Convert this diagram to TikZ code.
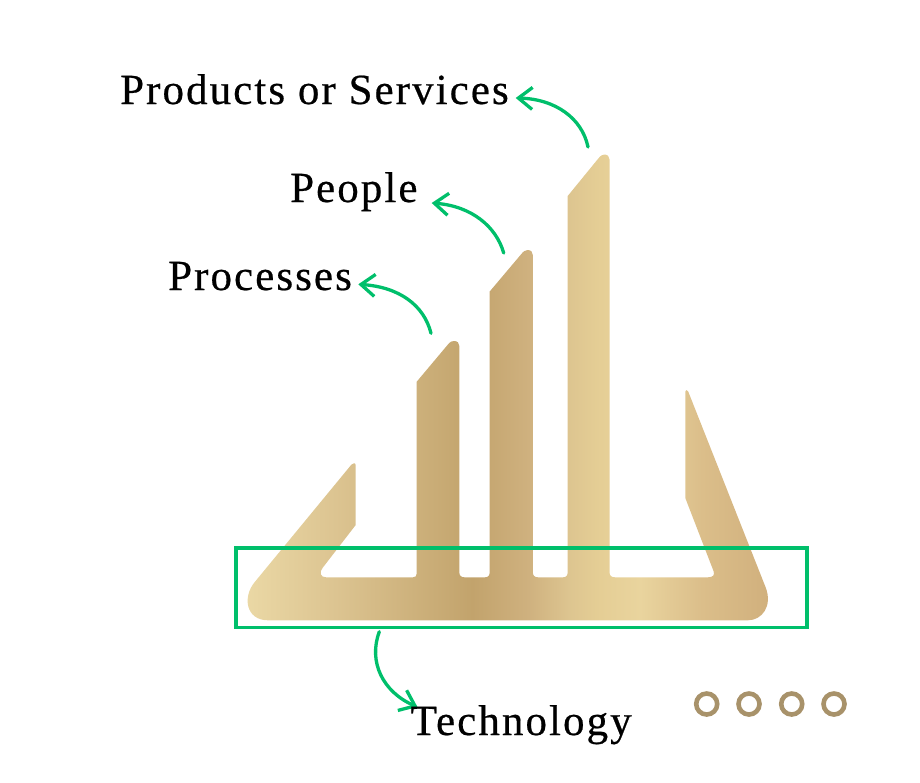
\documentclass[tikz,border=0pt]{standalone}
\usepackage{fontspec}
\setmainfont[LetterSpace=4.8,FakeBold=0.5]{Liberation Serif}
\usetikzlibrary{arrows.meta}
\definecolor{grn}{HTML}{00BF6B}
\definecolor{ringc}{HTML}{A8926A}
\definecolor{ga}{HTML}{EBD9A6}
\definecolor{gb}{HTML}{DCC491}
\definecolor{gc}{HTML}{C2A36C}
\definecolor{gd}{HTML}{CFB17F}
\definecolor{gh}{HTML}{DDC590}
\definecolor{gi}{HTML}{E5CE95}
\definecolor{ge}{HTML}{E9D49E}
\definecolor{gf}{HTML}{DBBE8A}
\definecolor{gg}{HTML}{D0AF7C}
\pgfdeclarehorizontalshading{gold}{100bp}{
 color(0bp)=(ga);
 color(25bp)=(ga);
 color(33.8bp)=(gb);
 color(46.7bp)=(gc);
 color(52bp)=(gd);
 color(55.8bp)=(gh);
 color(58.7bp)=(gi);
 color(62.5bp)=(ge);
 color(68.3bp)=(gf);
 color(75bp)=(gg);
 color(100bp)=(gg)}
\tikzset{
 lab/.style={anchor=base west,inner sep=0pt,font=\fontsize{43}{50}\selectfont,text=black},
 link/.style={draw=grn,line width=3.3pt,line cap=round,-{Straight Barb[length=14pt,width=22pt,line width=3.3pt]}},
 ring/.style={circle,draw=ringc,line width=4.6pt,fill=white,minimum size=21pt,inner sep=0pt},
 focus/.style={draw=grn,line width=3.4pt}
}
\begin{document}
\begin{tikzpicture}[x=1pt,y=-1pt]
\useasboundingbox (0,0) rectangle (920,782);
% logo
\shade[shading=gold]
 (255,581.7) -- (351.5,464.5) .. controls (353,462.7) and (355.7,462.5) .. (355.7,465.5)
 -- (355.7,525)
 -- (322.5,568) .. controls (319,572.5) and (320.5,577.3) .. (326,577.3)
 -- (413,577.3) .. controls (415.5,577.3) and (416.7,576) .. (416.7,573.5)
 -- (416.7,381.7)
 -- (447.5,345) .. controls (450.5,341.3) and (452,341) .. (454,341)
 .. controls (457.5,341) and (459.3,343) .. (459.3,346)
 -- (459.3,572) .. controls (459.3,575.5) and (461,577.3) .. (464.5,577.3)
 -- (485,577.3) .. controls (488.2,577.3) and (489.7,575.5) .. (489.7,572)
 -- (489.7,291.5)
 -- (520.5,255) .. controls (523.5,251.3) and (525,250) .. (527.5,250)
 .. controls (531,250) and (532.8,252) .. (532.8,255)
 -- (532.8,572) .. controls (532.8,575.5) and (534.5,577.3) .. (538,577.3)
 -- (563,577.3) .. controls (566.2,577.3) and (567.7,575.5) .. (567.7,572)
 -- (567.7,196)
 -- (597.5,159.5) .. controls (600.5,155.8) and (602,154.5) .. (604.2,154.5)
 .. controls (607.7,154.5) and (609.5,156.5) .. (609.5,159.5)
 -- (609.5,572) .. controls (609.5,575.5) and (611.2,577.3) .. (615,577.3)
 -- (708,577.3) .. controls (713,577.3) and (715,575) .. (713.5,571)
 -- (685.3,498) -- (685.3,391.5)
 .. controls (685.3,389.8) and (687.5,389.5) .. (688.2,391.5)
 -- (765.5,587)
 .. controls (773,606) and (762,620.3) .. (748,620.3)
 -- (268,620.3)
 .. controls (246,620.3) and (242,597) .. (255,581.7) -- cycle;
% focus box
\node[focus,inner sep=0pt,minimum width=571pt,minimum height=79.5pt] (box) at (521.5,587.8) {};
% connectors
\coordinate (p3) at (588,147);
\coordinate (p2) at (503.7,253);
\coordinate (p1) at (431,333.3);
\coordinate (prodend) at (515.7,98);
\coordinate (peopleend) at (431.7,203);
\coordinate (procend) at (358.3,284.3);
\coordinate (boxout) at (379.3,631.7);
\coordinate (techend) at (417.5,707);
\draw[link] (p3) .. controls (582,118) and (555,99) .. (prodend);
\draw[link] (p2) .. controls (496,226) and (471,206) .. (peopleend);
\draw[link] (p1) .. controls (424,305) and (399,287) .. (procend);
\draw[link] (boxout) .. controls (368,662) and (383,692) .. (techend);
% labels
\node[lab] (prod) at (120,104) {Products or Services};
\node[lab] (people) at (290,202) {People};
\node[lab] (proc) at (168,290) {Processes};
\node[lab] (tech) at (410.5,735) {Technology};
% rings
\node[ring] (r1) at (706.7,704) {};
\node[ring] (r2) at (749,704) {};
\node[ring] (r3) at (791.7,704) {};
\node[ring] (r4) at (834,704) {};
\end{tikzpicture}
\end{document}
